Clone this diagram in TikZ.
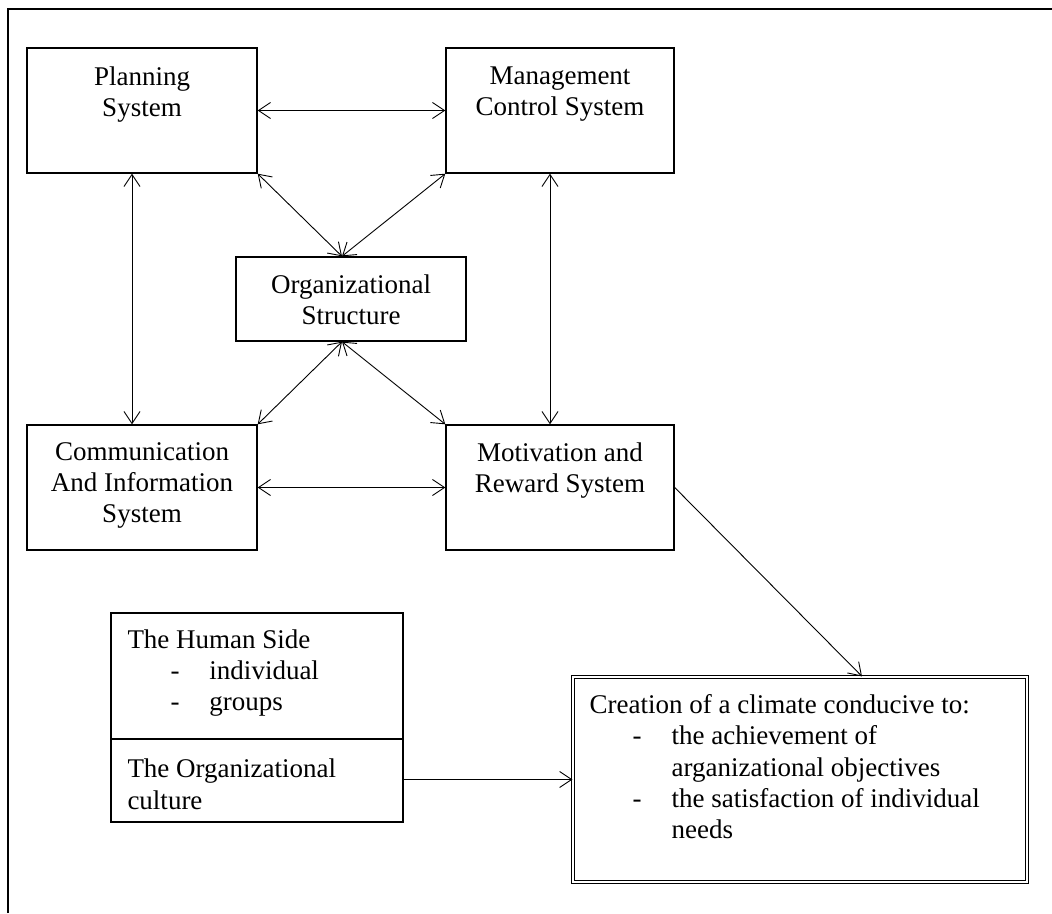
\documentclass[tikz,border=0pt]{standalone}
\usepackage{fontspec}
\setmainfont{Liberation Serif}
\usetikzlibrary{arrows.meta, positioning}

\tikzset{
  box/.style={draw, line width=1.4pt, minimum width=230pt, minimum height=125pt, inner sep=0pt},
  txt/.style={align=center, inner sep=0pt, font=\fontsize{27}{31}\selectfont},
  ltxt/.style={align=left, inner sep=0pt, font=\fontsize{27}{31.3}\selectfont},
  link/.style={line width=0.9pt, >={Straight Barb[length=12pt,width=16pt,line width=0.9pt]}},
}
\newcommand\itm[1]{\hspace*{43pt}\makebox[39pt][l]{-}#1}

\begin{document}
\begin{tikzpicture}[x=1pt, y=-1pt]
\useasboundingbox (0,0) rectangle (1052,913);
% outer frame, only top and left edge show
\draw[line width=1.4pt] (8,913) -- (8,9) -- (1052,9);

% the five systems
\node[box] (plan) at (142,110.5) {};
\node[box, minimum width=228pt] (mgmt) at (560,110.5) {};
\node[box, minimum height=84pt] (org) at (351,299) {};
\node[box] (comm) at (142,487.5) {};
\node[box, minimum width=228pt] (motiv) at (560,487.5) {};

\node[txt, below=19pt of plan.north] (planT) {Planning\\System};
\node[txt, below=19pt of mgmt.north] (mgmtT) {Management\\Control System};
\node[txt, below=18pt of org.north] (orgT) {Organizational\\Structure};
\node[txt, below=18pt of comm.north] (commT) {Communication\\And Information\\System};
\node[txt, below=18pt of motiv.north] (motivT) {Motivation and\\Reward System};

% human side and climate
\node[box, minimum width=292pt, minimum height=209pt] (human) at (257,717.5) {};
\draw[line width=1.4pt] ([yshift=-21.5pt]human.west) -- ([yshift=-21.5pt]human.east);
\node[ltxt, below right=17pt and 17pt of human.north west] (humanT)
  {The Human Side\\\itm{individual}\\\itm{groups}};
\node[ltxt, below right=41.5pt and 17pt of human.west] (cultT)
  {The Organizational\\culture};

\node[box, double, double distance=2.4pt, line width=1.2pt,
      minimum width=454pt, minimum height=205pt] (goal) at (800,779.5) {};
\node[ltxt, below right=18pt and 17pt of goal.north west] (goalT)
  {Creation of a climate conducive to:\\
   \itm{the achievement of}\\
   \hspace*{82pt}arganizational objectives\\
   \itm{the satisfaction of individual}\\
   \hspace*{82pt}needs};

% links
\draw[link, <->] (plan.east) -- (mgmt.west);
\draw[link, <->] ([xshift=-10pt]plan.south) -- ([xshift=-10pt]comm.north);
\draw[link, <->] ([xshift=-10pt]mgmt.south) -- ([xshift=-10pt]motiv.north);
\draw[link, <->] (plan.south east) -- ([xshift=-9pt]org.north);
\draw[link, <->] (mgmt.south west) -- ([xshift=-9pt]org.north);
\draw[link, <->] ([xshift=-9pt]org.south) -- (comm.north east);
\draw[link, <->] ([xshift=-9pt]org.south) -- (motiv.north west);
\draw[link, <->] (comm.east) -- (motiv.west);
\draw[link, ->] (motiv.east) -- ([xshift=62pt]goal.north);
\draw[link, ->] ([yshift=-62pt]human.east) -- (goal.west);
\end{tikzpicture}
\end{document}
